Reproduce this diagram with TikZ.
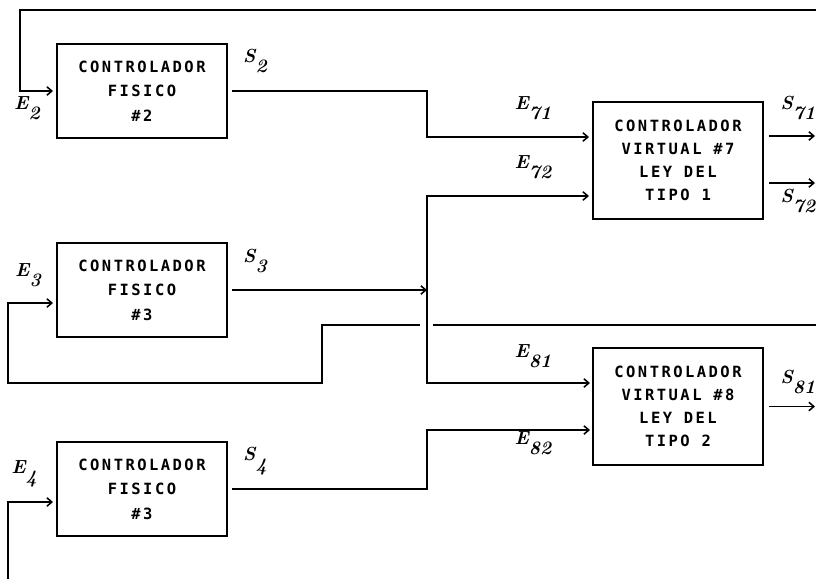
\documentclass[tikz,border=0pt]{standalone}
\usepackage{fontspec}
\usepackage{tikz}
\usetikzlibrary{arrows.meta}

\newfontfamily\boxfont{DejaVu Sans Mono}[LetterSpace=16]
\newcommand{\senal}[2]{\bfseries\itshape #1\raisebox{-0.55em}{#2}}

\tikzset{
  ctrl/.style={draw, line width=1.1pt, minimum width=4.25cm, minimum height=2.35cm,
    inner sep=0pt, align=center, font=\boxfont\bfseries\fontsize{11}{17.4}\selectfont},
  virt/.style={ctrl, minimum height=2.925cm, font=\boxfont\bfseries\fontsize{11}{16.3}\selectfont},
  lbl/.style={inner sep=0pt, font=\fontsize{13.5}{15}\selectfont}
}

\begin{document}
\begin{tikzpicture}[x=0.025cm, y=-0.025cm, line width=1.1pt,
    >={Straight Barb[length=3.5pt,width=6pt]}]
   		\useasboundingbox (0,0) rectangle (816,579);

   		% controladores fisicos
   		\foreach \y/\name/\num in {91/fis2/2, 290/fis3/3, 489/fis4/3}{
   			\node[ctrl] (\name) at (142,\y) {CONTROLADOR\\FISICO\\\#\num};
   		}
   		% controladores virtuales
   		\node[virt] (vir7) at (678,160.5) {CONTROLADOR\\VIRTUAL \#7\\LEY DEL\\TIPO 1};
   		\node[virt] (vir8) at (678,406.5) {CONTROLADOR\\VIRTUAL \#8\\LEY DEL\\TIPO 2};

   		\coordinate (e2) at (53,91);
   		\coordinate (e3) at (53,303);
   		\coordinate (e4) at (53,502);
   		\coordinate (e71) at (589,137);
   		\coordinate (e72) at (589,196);
   		\coordinate (e81) at (590,383);
   		\coordinate (e82) at (590,430);
   		\coordinate (s71) at (815,136);
   		\coordinate (s72) at (815,183);
   		\coordinate (s81) at (815,406.5);
   		\coordinate (bus) at (427,290);
   		\coordinate (fb2) at (20,91);
   		\coordinate (fb3) at (8,303);
   		\coordinate (fb4) at (8,579);

   		% lazos de entrada
   		\draw[->] (816,10) -| (fb2) -- (e2);
   		\draw[->] (816,325) -- (433,325) (420,325) -| (322,383) -| (fb3) -- (e3);
   		\draw[->] (fb4) |- (e4);

   		% salidas de los controladores fisicos
   		\draw[->, shorten <=3pt] (fis2.east) -| (bus |- e71) -- (e71);
   		\draw[->, shorten <=3pt] (fis3.east) -- (bus);
   		\draw[->, shorten <=3pt] (fis4.east) -| (bus |- e82) -- (e82);
   		\draw[->] (bus) |- (e72);
   		\draw[->] (bus) |- (e81);

   		% salidas de los controladores virtuales
   		\draw[->, shorten <=4pt] (vir7.east |- s71) -- (s71);
   		\draw[->, shorten <=4pt] (vir7.east |- s72) -- (s72);
   		\draw[->, shorten <=4pt] (vir8.east) -- (s81);

   		\foreach \x/\y/\name/\s/\n in {
   			27/108/lE2/E/2,
   			255/61/lS2/S/2,
   			533/108/lE71/E/71,
   			533/167/lE72/E/72,
   			798/108/lS71/S/71,
   			798/201/lS72/S/72,
   			255/261/lS3/S/3,
   			28/275/lE3/E/3,
   			533/356/lE81/E/81,
   			798/382/lS81/S/81,
   			533/443/lE82/E/82,
   			255/461/lS4/S/4,
   			28/474/lE4/E/4
   		}{
   			\node[lbl] (\name) at (\x,\y) {\senal{\s}{\n}};
   		}
   	\end{tikzpicture}
\end{document}
